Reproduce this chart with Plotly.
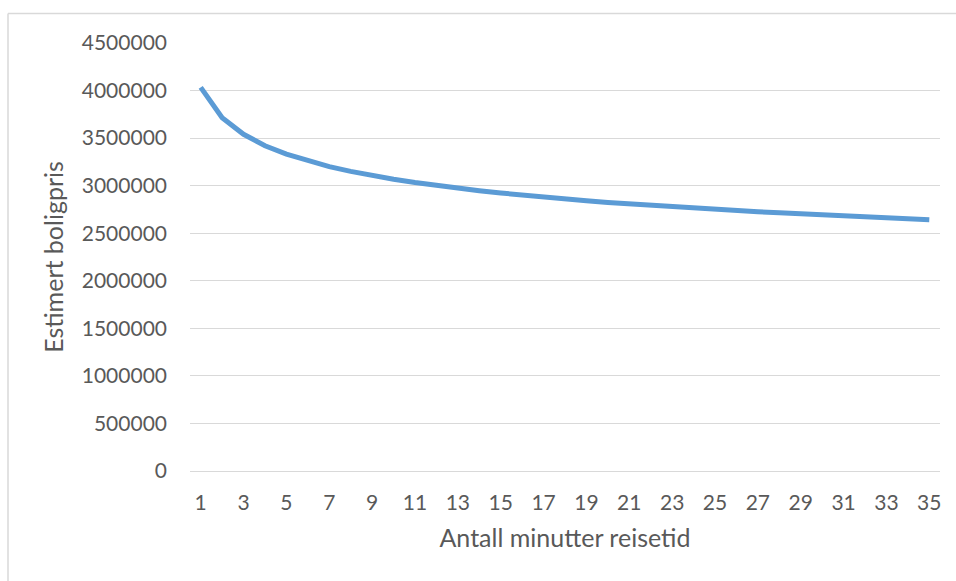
import plotly.graph_objects as go

# Travel time in minutes and the estimated house price for each minute
minutes = list(range(1, 36))
estimated_price = [
    4034000, 3714000, 3540000, 3420000, 3331000, 3259000, 3200000,
    3150000, 3106000, 3067000, 3033000, 3001000, 2973000, 2947000,
    2923000, 2900000, 2879000, 2860000, 2842000, 2824000, 2808000,
    2793000, 2778000, 2764000, 2750000, 2738000, 2725000, 2714000,
    2702000, 2692000, 2681000, 2671000, 2661000, 2652000, 2642000,
]
x_tick_values = list(range(1, 36, 2))
y_tick_values = list(range(0, 4500001, 500000))

FONT = "Lato"
TEXT_COLOR = "#595959"
GRID_COLOR = "#D9D9D9"
LINE_COLOR = "#5B9BD5"

fig = go.Figure(
    go.Scatter(
        x=minutes,
        y=estimated_price,
        mode="lines",
        line=dict(color=LINE_COLOR, width=5),
        hoverinfo="x+y",
    )
)

fig.update_layout(
    width=956,
    height=581,
    margin=dict(l=190, r=16, t=43, b=110),
    paper_bgcolor="white",
    plot_bgcolor="white",
    showlegend=False,
    font=dict(family=FONT, size=21, color=TEXT_COLOR),
)

fig.update_xaxes(
    range=[0.5, 35.5],
    tickmode="array",
    tickvals=x_tick_values,
    ticktext=[str(v) for v in x_tick_values],
    showgrid=False,
    showline=True,
    linecolor=GRID_COLOR,
    linewidth=1,
    zeroline=False,
    ticks="",
    ticklabelstandoff=13,
    title=dict(text="Antall minutter reisetid", standoff=16,
               font=dict(family=FONT, size=25, color=TEXT_COLOR)),
)

fig.update_yaxes(
    range=[0, 4500000],
    tickmode="array",
    tickvals=y_tick_values,
    ticktext=[str(v) for v in y_tick_values],
    showgrid=True,
    gridcolor=GRID_COLOR,
    gridwidth=1,
    zeroline=False,
    showline=False,
    ticks="",
    ticklabelstandoff=22,
    title=dict(text="Estimert boligpris", standoff=10,
               font=dict(family=FONT, size=25, color=TEXT_COLOR)),
)

# Chart frame (left and top edges)
frame_left = -182 / 750
frame_top = (471 - 13.5) / 428
fig.add_shape(type="line", xref="paper", yref="paper",
              x0=frame_left, x1=frame_left, y0=-0.3, y1=frame_top,
              line=dict(color=GRID_COLOR, width=1.5))
fig.add_shape(type="line", xref="paper", yref="paper",
              x0=frame_left, x1=1.03, y0=frame_top, y1=frame_top,
              line=dict(color=GRID_COLOR, width=1.5))

fig.write_html("out.html")
